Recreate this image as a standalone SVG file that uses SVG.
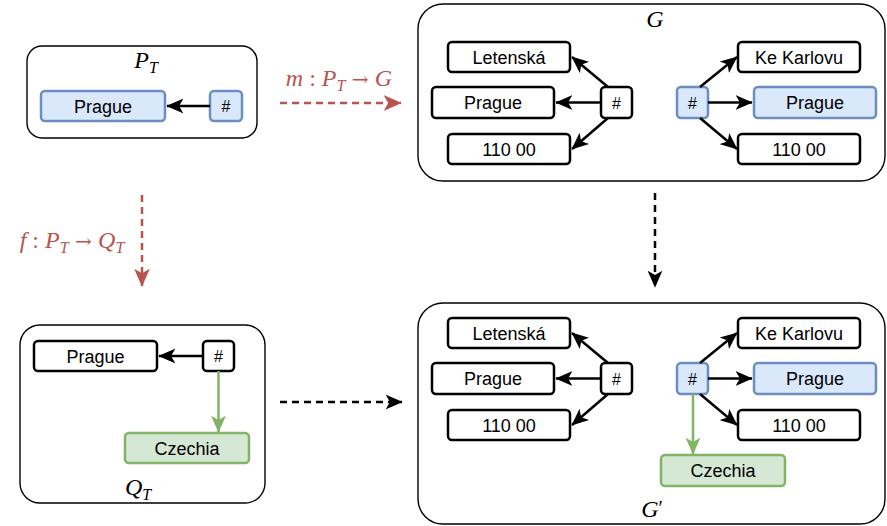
<svg xmlns="http://www.w3.org/2000/svg" width="887" height="526" viewBox="0 0 887 526">
<style>
.frame{fill:#fff;stroke:#000;stroke-width:1.4}
.n{fill:#fff;stroke:#000;stroke-width:2.5}
.b{fill:#dae8fc;stroke:#6c8ebf;stroke-width:2.5}
.g{fill:#d5e8d4;stroke:#82b366;stroke-width:2.5}
.t{font-family:"Liberation Sans",Arial,sans-serif;font-size:18px;fill:#000;text-anchor:middle}
.h{font-family:"Liberation Sans",Arial,sans-serif;font-size:16px;fill:#000;text-anchor:middle}
.m{font-family:"Liberation Serif","Times New Roman",serif;font-size:24px;font-style:italic;text-anchor:middle}
.up{font-style:normal}
.ar{font-family:"DejaVu Serif",serif;font-style:normal;font-size:20px}
.e{stroke:#000;stroke-width:2.5;fill:none;marker-end:url(#ak)}
.eg{stroke:#82b366;stroke-width:2.5;fill:none;marker-end:url(#ag)}
.dk{stroke:#000;stroke-width:2.5;fill:none;stroke-dasharray:7 5;marker-end:url(#ak)}
.dr{stroke:#b85450;stroke-width:2.5;fill:none;stroke-dasharray:7 5;marker-end:url(#ar)}
</style>
<defs>
<marker id="ak" viewBox="0 0 12 12" refX="11.5" refY="6" markerWidth="17" markerHeight="17" markerUnits="userSpaceOnUse" orient="auto"><path d="M0,0.8 L12,6 L0,11.2 L3,6 z" fill="#000"/></marker>
<marker id="ag" viewBox="0 0 12 12" refX="11.5" refY="6" markerWidth="17" markerHeight="17" markerUnits="userSpaceOnUse" orient="auto"><path d="M0,0.8 L12,6 L0,11.2 L3,6 z" fill="#82b366"/></marker>
<marker id="ar" viewBox="0 0 12 12" refX="11.5" refY="6" markerWidth="18" markerHeight="18" markerUnits="userSpaceOnUse" orient="auto"><path d="M0,0.8 L12,6 L0,11.2 L3,6 z" fill="#b85450"/></marker>
</defs>

<!-- frames -->
<g id="PT">
<rect class="frame" x="27" y="46" width="230" height="92" rx="15"/>
<text class="m" x="146" y="68">P<tspan font-size="16" dy="5">T</tspan></text>
</g>
<g id="G">
<rect class="frame" x="418" y="4" width="467" height="177" rx="25"/>
<text class="m" x="655" y="27">G</text>
</g>
<g id="QT">
<rect class="frame" x="20" y="325" width="245" height="178" rx="20"/>
<text class="m" x="138" y="495">Q<tspan font-size="16" dy="5">T</tspan></text>
</g>
<g id="Gp">
<rect class="frame" x="418" y="303" width="467" height="221" rx="25"/>
<text class="m" x="652" y="517">G<tspan class="up" font-size="20" dy="-2">′</tspan></text>
</g>

<!-- P_T nodes -->
<g id="pt-prague"><rect class="b" x="41" y="91" width="124" height="30" rx="4"/><text class="t" x="103" y="112.5">Prague</text></g>
<g id="pt-hash"><rect class="b" x="210" y="91" width="32" height="30" rx="4"/><text class="h" x="226" y="112">#</text></g>

<!-- G nodes -->
<g id="g-letenska"><rect class="n" x="448" y="42" width="122" height="30" rx="4"/><text class="t" x="509" y="63.5">Letenská</text></g>
<g id="g-prague1"><rect class="n" x="432" y="87" width="122" height="31" rx="4"/><text class="t" x="493" y="109">Prague</text></g>
<g id="g-zip1"><rect class="n" x="448" y="134" width="122" height="30" rx="4"/><text class="t" x="509" y="155.5">110 00</text></g>
<g id="g-hash1"><rect class="n" x="601" y="87" width="31" height="31" rx="4"/><text class="h" x="616.5" y="108.5">#</text></g>
<g id="g-hash2"><rect class="b" x="677" y="87" width="31" height="31" rx="4"/><text class="h" x="692.5" y="108.5">#</text></g>
<g id="g-karlovu"><rect class="n" x="738" y="42" width="122" height="30" rx="4"/><text class="t" x="799" y="63.5">Ke Karlovu</text></g>
<g id="g-prague2"><rect class="b" x="754" y="87" width="122" height="31" rx="4"/><text class="t" x="815" y="109">Prague</text></g>
<g id="g-zip2"><rect class="n" x="738" y="134" width="122" height="30" rx="4"/><text class="t" x="799" y="155.5">110 00</text></g>

<!-- Q_T nodes -->
<g id="qt-prague"><rect class="n" x="34" y="341" width="123" height="30" rx="4"/><text class="t" x="95.5" y="362.5">Prague</text></g>
<g id="qt-hash"><rect class="n" x="203" y="341" width="31" height="30" rx="4"/><text class="h" x="218.5" y="362">#</text></g>
<g id="qt-czechia"><rect class="g" x="125" y="433" width="124" height="30" rx="4"/><text class="t" x="187" y="454.5">Czechia</text></g>

<!-- G' nodes -->
<g id="gp-letenska"><rect class="n" x="448" y="318" width="122" height="30" rx="4"/><text class="t" x="509" y="339.5">Letenská</text></g>
<g id="gp-prague1"><rect class="n" x="432" y="363" width="122" height="31" rx="4"/><text class="t" x="493" y="385">Prague</text></g>
<g id="gp-zip1"><rect class="n" x="448" y="410" width="122" height="30" rx="4"/><text class="t" x="509" y="431.5">110 00</text></g>
<g id="gp-hash1"><rect class="n" x="601" y="363" width="31" height="31" rx="4"/><text class="h" x="616.5" y="384.5">#</text></g>
<g id="gp-hash2"><rect class="b" x="677" y="363" width="31" height="31" rx="4"/><text class="h" x="692.5" y="384.5">#</text></g>
<g id="gp-karlovu"><rect class="n" x="738" y="318" width="122" height="30" rx="4"/><text class="t" x="799" y="339.5">Ke Karlovu</text></g>
<g id="gp-prague2"><rect class="b" x="754" y="363" width="122" height="31" rx="4"/><text class="t" x="815" y="385">Prague</text></g>
<g id="gp-zip2"><rect class="n" x="738" y="410" width="122" height="30" rx="4"/><text class="t" x="799" y="431.5">110 00</text></g>
<g id="gp-czechia"><rect class="g" x="661" y="455" width="124" height="31" rx="4"/><text class="t" x="723" y="477">Czechia</text></g>

<!-- connectors -->
<g id="connectors">
<line class="e" x1="210" y1="106" x2="167" y2="106"/>
<line class="e" x1="608" y1="87" x2="572" y2="57"/>
<line class="e" x1="601" y1="102.5" x2="556" y2="102.5"/>
<line class="e" x1="608" y1="118" x2="572" y2="149"/>
<line class="e" x1="700" y1="87" x2="737" y2="57"/>
<line class="e" x1="708" y1="102.5" x2="752" y2="102.5"/>
<line class="e" x1="700" y1="118" x2="737" y2="149"/>

<line class="e" x1="203" y1="356" x2="159" y2="356"/>
<line class="eg" x1="218.5" y1="371" x2="218.5" y2="432"/>

<line class="e" x1="608" y1="363" x2="572" y2="333"/>
<line class="e" x1="601" y1="378.5" x2="556" y2="378.5"/>
<line class="e" x1="608" y1="394" x2="572" y2="425"/>
<line class="e" x1="700" y1="363" x2="737" y2="333"/>
<line class="e" x1="708" y1="378.5" x2="752" y2="378.5"/>
<line class="e" x1="700" y1="394" x2="737" y2="425"/>
<line class="eg" x1="693" y1="394" x2="693" y2="454"/>

<line class="dr" x1="280" y1="103" x2="401" y2="103"/>
<line class="dr" x1="142" y1="195" x2="142" y2="286"/>
<line class="dk" x1="655" y1="193" x2="655" y2="287"/>
<line class="dk" x1="280" y1="402" x2="402" y2="402"/>

<text class="m" x="339" y="86" fill="#b85450">m <tspan class="up">:</tspan> P<tspan font-size="16" dy="5">T</tspan><tspan class="ar" dy="-5"> → </tspan>G</text>
<text class="m" x="72" y="248" fill="#b85450">f <tspan class="up">:</tspan> P<tspan font-size="16" dy="5">T</tspan><tspan class="ar" dy="-5"> → </tspan>Q<tspan font-size="16" dy="5">T</tspan></text>
</g>
</svg>
